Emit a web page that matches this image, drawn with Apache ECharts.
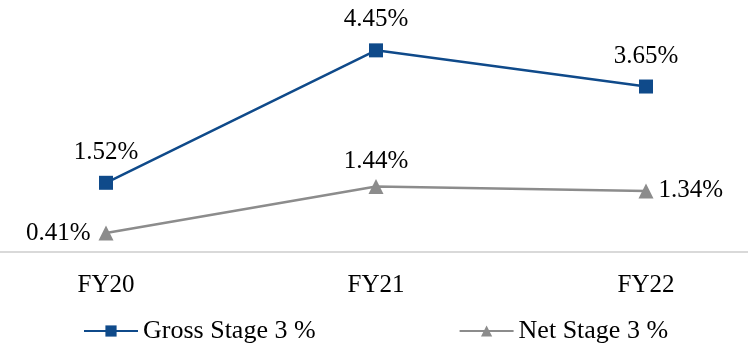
<!DOCTYPE html>
<html>
<head>
<meta charset="utf-8">
<script src="https://cdn.jsdelivr.net/npm/echarts@6/dist/echarts.min.js"></script>
<style>html,body{margin:0;padding:0;background:#fff}#c{width:748px;height:343px}</style>
</head>
<body>
<div id="c"></div>
<script>
var categories = ['FY20', 'FY21', 'FY22'];
var grossStage3 = [1.52, 4.45, 3.65];
var netStage3 = [0.41, 1.44, 1.34];
var seriesNames = ['Gross Stage 3 %', 'Net Stage 3 %'];

var FONT = 'Liberation Serif';
var FS = 25;
var chart = echarts.init(document.getElementById('c'), null, {renderer: 'canvas'});
var fmt = function (p) { return p.value.toFixed(2) + '%'; };

chart.setOption({
  animation: false,
  backgroundColor: '#fff',
  textStyle: {fontFamily: FONT},
  grid: {left: -29, right: -33, top: 25.5, bottom: 91.5, containLabel: false, outerBoundsMode: 'none'},
  legend: {
    top: 313,
    left: 78,
    itemGap: 143,
    itemWidth: 54,
    itemHeight: 14,
    textStyle: {fontFamily: FONT, fontSize: 26, color: '#000'},
    data: seriesNames
  },
  xAxis: {
    type: 'category',
    data: categories,
    axisLine: {lineStyle: {color: '#d9d9d9', width: 2}},
    axisTick: {show: false},
    axisLabel: {fontFamily: FONT, fontSize: FS, color: '#000', margin: 21}
  },
  yAxis: {
    type: 'value', min: 0, max: 5, show: false
  },
  series: [
    {
      name: seriesNames[0],
      type: 'line',
      data: grossStage3,
      symbol: 'rect',
      symbolSize: 14,
      lineStyle: {color: '#0f4a8a', width: 2.5},
      itemStyle: {color: '#0f4a8a'},
      label: {show: true, position: 'top', distance: 11, formatter: fmt,
        fontFamily: FONT, fontSize: FS, color: '#000'}
    },
    {
      name: seriesNames[1],
      type: 'line',
      data: [
        {value: netStage3[0], label: {position: 'left', distance: 8}},
        {value: netStage3[1], label: {position: 'top', distance: 5}},
        {value: netStage3[2], label: {position: 'right', distance: 5}}
      ],
      symbol: 'triangle',
      symbolSize: 15,
      lineStyle: {color: '#8c8c8c', width: 2.5},
      itemStyle: {color: '#8c8c8c'},
      label: {show: true, formatter: fmt,
        fontFamily: FONT, fontSize: FS, color: '#000'}
    }
  ]
});
</script>
</body>
</html>
